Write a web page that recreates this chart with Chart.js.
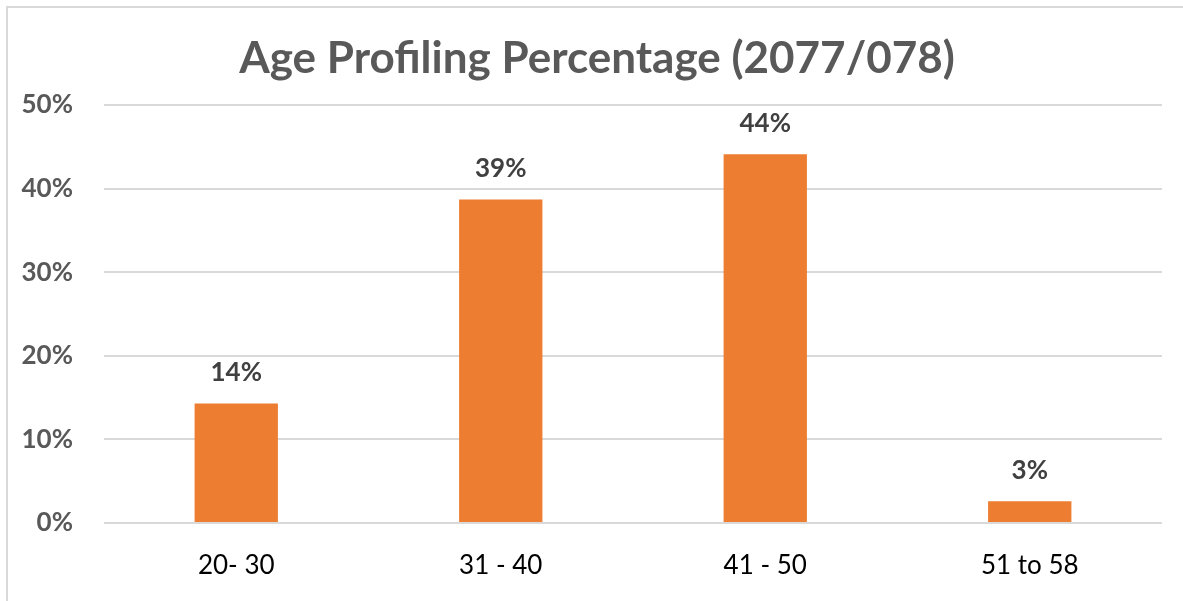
<!DOCTYPE html>
<html>
<head>
<meta charset="utf-8">
<script src="https://cdn.jsdelivr.net/npm/chart.js@4/dist/chart.umd.min.js"></script>
<style>
  html, body { margin: 0; padding: 0; background: #fff; }
  #wrap { position: relative; width: 1183px; height: 601px; overflow: hidden; }
  #frame { position: absolute; left: 6px; top: 6px; width: 1300px; height: 700px;
           border-top: 2px solid #d9d9d9; border-left: 2px solid #d9d9d9; }
  canvas { position: absolute; left: 0; top: 0; }
</style>
</head>
<body>
<div id="wrap">
  <div id="frame"></div>
  <canvas id="age-chart" width="1183" height="601"></canvas>
</div>
<script>
'use strict';

const chartTitle = 'Age Profiling Percentage (2077/078)';
const ageGroups = ['20- 30', '31 - 40', '41 - 50', '51 to 58'];
const agePercent = [14.3, 38.7, 44.1, 2.6];
const yTicks = [0, 10, 20, 30, 40, 50];

const FONT = 'Lato, "Open Sans", sans-serif';

// draws the % value above each bar, like excel data labels
const barLabels = {
  id: 'barLabels',
  afterDatasetsDraw(chart) {
    const ctx = chart.ctx;
    const meta = chart.getDatasetMeta(0);
    ctx.save();
    ctx.font = 'bold 26px ' + FONT;
    ctx.fillStyle = '#404040';
    ctx.textAlign = 'center';
    ctx.textBaseline = 'bottom';
    meta.data.forEach(function(bar, i) {
      ctx.fillText(Math.round(agePercent[i]) + '%', bar.x, bar.y - 18);
    });
    ctx.restore();
  }
};

// title is centred on the whole chart box, not the plot area, so draw it here
const centredTitle = {
  id: 'centredTitle',
  afterDraw(chart) {
    const ctx = chart.ctx;
    ctx.save();
    ctx.font = 'bold 44px ' + FONT;
    ctx.fillStyle = '#595959';
    ctx.textAlign = 'center';
    ctx.textBaseline = 'alphabetic';
    ctx.fillText(chartTitle, (32 + chart.chartArea.right) / 2, 73);
    ctx.restore();
  }
};

const ctx = document.getElementById('age-chart').getContext('2d');

let myChart = new Chart(ctx, {
  type: 'bar',
  data: {
    labels: ageGroups,
    datasets: [{
      label: 'Age',
      data: agePercent,
      backgroundColor: '#ED7D31',
      barPercentage: 0.63,
      categoryPercentage: 0.5
    }]
  },
  options: {
    responsive: false,
    animation: false,
    layout: { padding: { left: 0, right: 21, top: 105, bottom: 0 } },
    plugins: {
      legend: { display: false },
      tooltip: { enabled: false },
      title: { display: false }
    },
    scales: {
      x: {
        grid: { display: false },
        border: { display: false },
        ticks: {
          color: '#000',
          font: { family: FONT, size: 26, lineHeight: 1.0 },
          padding: 22
        }
      },
      y: {
        min: 0,
        max: 50,
        afterFit(scale) { scale.width = 104; },
        afterBuildTicks(scale) {
          scale.ticks = yTicks.map(function(v) { return { value: v }; });
        },
        grid: { color: '#d9d9d9', lineWidth: 2, drawTicks: false },
        border: { display: false },
        ticks: {
          color: '#595959',
          font: { family: FONT, size: 26, weight: 'bold' },
          padding: 31,
          callback: function(v) { return v + '%'; }
        }
      }
    }
  },
  plugins: [barLabels, centredTitle]
});
</script>
</body>
</html>
